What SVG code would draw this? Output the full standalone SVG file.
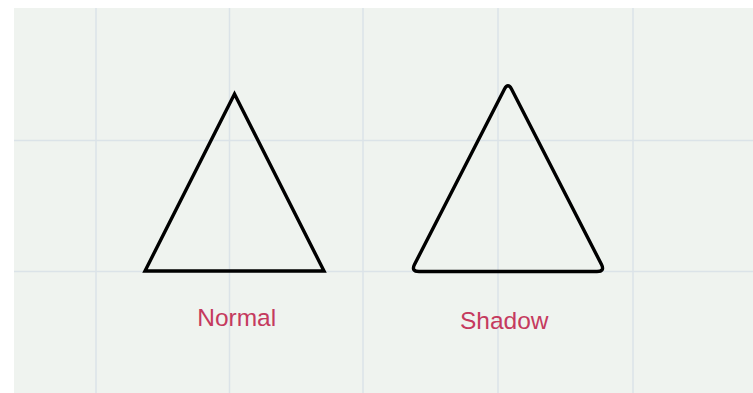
<svg xmlns="http://www.w3.org/2000/svg" width="753" height="393" viewBox="0 0 753 393">
  <style>
    .grid { stroke: #dbe3e8; stroke-width: 1.5; }
    .tri { fill: none; stroke: #000; stroke-width: 3.4; }
    .label { font-family: "Liberation Sans", Arial, sans-serif; font-size: 24.5px; fill: #c53a5e; text-anchor: middle; }
  </style>
  <rect x="0" y="0" width="753" height="393" fill="#ffffff"/>
  <rect x="14" y="8" width="739" height="385" fill="#eff3ef"/>
  <g id="grid">
    <line class="grid" x1="96" y1="8" x2="96" y2="393"/>
    <line class="grid" x1="229.5" y1="8" x2="229.5" y2="393"/>
    <line class="grid" x1="363" y1="8" x2="363" y2="393"/>
    <line class="grid" x1="498" y1="8" x2="498" y2="393"/>
    <line class="grid" x1="633" y1="8" x2="633" y2="393"/>
    <line class="grid" x1="14" y1="140.5" x2="753" y2="140.5"/>
    <line class="grid" x1="14" y1="271.5" x2="753" y2="271.5"/>
  </g>
  <g id="normal">
    <polygon class="tri" points="234.5,94 145,271 324,271" stroke-linejoin="miter"/>
    <text class="label" x="236.7" y="326">Normal</text>
  </g>
  <g id="shadow">
    <path class="tri" stroke-linejoin="round" d="M 504.5,89 Q 508,82.5 511.5,89 L 601.5,264.5 Q 605,271.5 597,271.5 L 419,271.5 Q 411,271.5 414.5,264.5 Z"/>
    <text class="label" x="504.3" y="329">Shadow</text>
  </g>
  <g id="connectors"/>
</svg>
